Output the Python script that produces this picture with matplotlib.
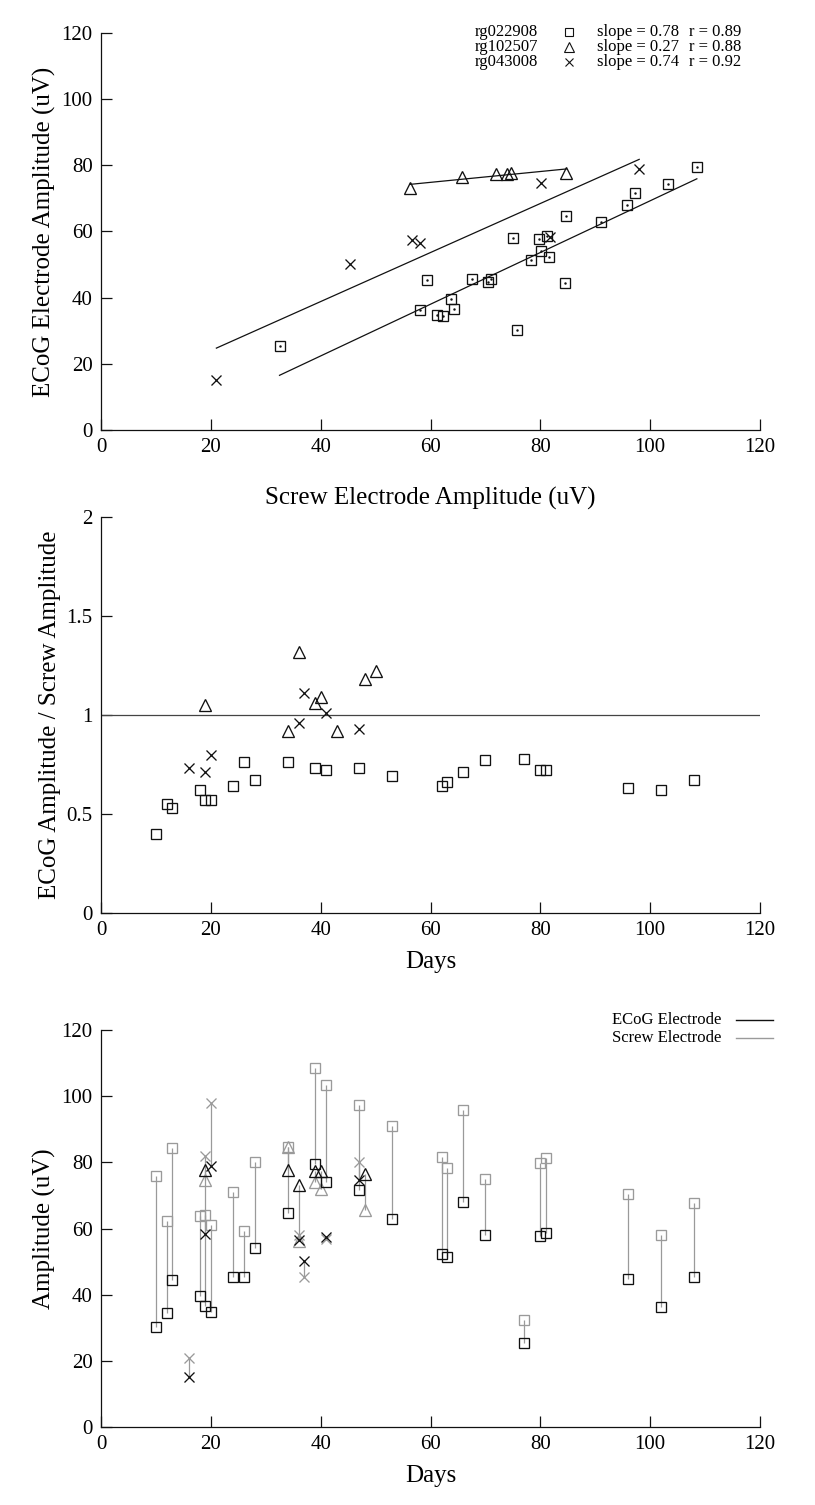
import numpy as np
import matplotlib
matplotlib.use("Agg")
import matplotlib.pyplot as plt
from matplotlib.ticker import FuncFormatter

plt.rcParams['font.family'] = ['Liberation Serif', 'DejaVu Serif']

# amplitudes per recording day (ECoG electrode vs screw electrode)
sq_days = [10, 12, 13, 18, 19, 20, 24, 26, 28, 34, 39, 41, 47, 53, 62, 63, 66, 70, 77, 80, 81, 96, 102, 108]
sq_ecog = [30.2, 34.4, 44.4, 39.7, 36.7, 34.7, 45.5, 45.3, 54.0, 64.6, 79.4, 74.2, 71.5, 63.0, 52.2, 51.3,
           68.1, 57.9, 25.3, 57.7, 58.6, 44.6, 36.3, 45.5]
sq_screw = [75.8, 62.2, 84.4, 63.8, 64.2, 61.1, 71.1, 59.4, 80.2, 84.7, 108.5, 103.3, 97.2, 91.0, 81.6, 78.3,
            95.7, 75.1, 32.5, 79.8, 81.3, 70.5, 58.1, 67.6]

tri_days = [19, 34, 36, 39, 40, 48]
tri_ecog = [77.8, 77.8, 73.2, 77.5, 77.3, 76.5]
tri_screw = [74.7, 84.7, 56.2, 74.0, 72.0, 65.7]

x_days = [16, 19, 20, 36, 37, 41, 47]
x_ecog = [15.2, 58.2, 79.0, 56.5, 50.2, 57.3, 74.7]
x_screw = [21.0, 81.8, 98.0, 58.0, 45.4, 56.7, 80.2]

# ratio panel
sq_ratio = [0.40, 0.55, 0.53, 0.62, 0.57, 0.57, 0.64, 0.76, 0.67, 0.76, 0.73, 0.72, 0.73, 0.69, 0.64, 0.66,
            0.71, 0.77, 0.78, 0.72, 0.72, 0.63, 0.62, 0.67]
tri_ratio_days = [19, 34, 36, 39, 40, 43, 48, 50]
tri_ratio = [1.05, 0.92, 1.32, 1.06, 1.09, 0.92, 1.18, 1.22]
x_ratio = [0.73, 0.71, 0.80, 0.96, 1.11, 1.01, 0.93]

subjects = ['rg022908', 'rg102507', 'rg043008']
slopes = ['0.78', '0.27', '0.74']
rvals = ['0.89', '0.88', '0.92']

GRAY = '#9a9a9a'
INK = '#111111'
TICK_FS = 15
LAB_FS = 18
LEG_FS = 12

series = [
    (sq_days, sq_ecog, sq_screw, dict(marker='s', ms=7.4)),
    (tri_days, tri_ecog, tri_screw, dict(marker='^', ms=9.2)),
    (x_days, x_ecog, x_screw, dict(marker='x', ms=7.4)),
]

fig = plt.figure(figsize=(8.15, 15.05), dpi=100)
ax1 = fig.add_axes([0.124, 0.7143, 0.8085, 0.2638])
ax2 = fig.add_axes([0.124, 0.3934, 0.8085, 0.2631])
ax3 = fig.add_axes([0.124, 0.0518, 0.8085, 0.2638])

fmt = FuncFormatter(lambda v, p: '%g' % v)
for ax in (ax1, ax2, ax3):
    for s in ('top', 'right'):
        ax.spines[s].set_visible(False)
    for s in ('left', 'bottom'):
        ax.spines[s].set_color(INK)
        ax.spines[s].set_linewidth(0.9)
    ax.tick_params(direction='in', length=8, width=0.9, color=INK, labelsize=TICK_FS, pad=6)
    ax.set_xlim(0, 120)
    ax.set_xticks(range(0, 121, 20))
    ax.xaxis.set_major_formatter(fmt)
    ax.yaxis.set_major_formatter(fmt)

# --- panel 1: ECoG vs screw with fits
for days, ecog, screw, mk in series:
    ax1.plot(screw, ecog, ls='none', mfc='none', mec=INK, mew=0.95, **mk)
    if mk['marker'] == 's':
        ax1.plot(screw, ecog, ls='none', marker='.', ms=1.5, color=INK)
    k, b = np.polyfit(screw, ecog, 1)
    xs = np.array([min(screw), max(screw)])
    ax1.plot(xs, k * xs + b, color=INK, lw=0.9)
ax1.set_ylim(0, 120)
ax1.set_yticks(range(0, 121, 20))
ax1.set_ylabel('ECoG Electrode Amplitude (uV)', fontsize=LAB_FS)
ax1.set_xlabel('Screw Electrode Amplitude (uV)', fontsize=LAB_FS, labelpad=21)

rows = [1.0033, 0.9655, 0.9277]
for (days, ecog, screw, mk), name, sl, r, yy in zip(series, subjects, slopes, rvals, rows):
    ax1.text(0.5675, yy, name, transform=ax1.transAxes, fontsize=LEG_FS, va='center', ha='left')
    ax1.plot([0.7107], [yy], transform=ax1.transAxes, ls='none', mfc='none', mec=INK, mew=0.8,
             marker=mk['marker'], ms=mk['ms'] * 0.85, clip_on=False)
    ax1.text(0.7522, yy, 'slope = ' + sl, transform=ax1.transAxes, fontsize=LEG_FS, va='center', ha='left')
    ax1.text(0.8925, yy, 'r = ' + r, transform=ax1.transAxes, fontsize=LEG_FS, va='center', ha='left')

# --- panel 2: ratio over days
ax2.axhline(1, color='#444444', lw=0.9)
ax2.plot(sq_days, sq_ratio, ls='none', marker='s', ms=7.4, mfc='none', mec=INK, mew=0.95)
ax2.plot(tri_ratio_days, tri_ratio, ls='none', marker='^', ms=9.2, mfc='none', mec=INK, mew=0.95)
ax2.plot(x_days, x_ratio, ls='none', marker='x', ms=7.4, mec=INK, mew=0.95)
ax2.set_ylim(0, 2)
ax2.set_yticks([0, 0.5, 1, 1.5, 2])
ax2.set_ylabel('ECoG Amplitude / Screw Amplitude', fontsize=LAB_FS)
ax2.set_xlabel('Days', fontsize=LAB_FS, labelpad=8)

# --- panel 3: both amplitudes over days
for days, ecog, screw, mk in series:
    ax3.vlines(days, ecog, screw, colors=GRAY, lw=0.9)
for days, ecog, screw, mk in series:
    ax3.plot(days, screw, ls='none', mfc='none', mec=GRAY, mew=0.95, **mk)
for days, ecog, screw, mk in series:
    ax3.plot(days, ecog, ls='none', mfc='none', mec=INK, mew=0.95, **mk)
ax3.set_ylim(0, 120)
ax3.set_yticks(range(0, 121, 20))
ax3.set_ylabel('Amplitude (uV)', fontsize=LAB_FS)
ax3.set_xlabel('Days', fontsize=LAB_FS, labelpad=8)

for lab, col, yy in (('ECoG Electrode', INK, 1.024), ('Screw Electrode', GRAY, 0.980)):
    ax3.text(0.942, yy, lab, transform=ax3.transAxes, fontsize=LEG_FS, va='center', ha='right')
    ax3.plot([0.9636, 1.0197], [yy, yy], transform=ax3.transAxes, color=col, lw=1, clip_on=False)

fig.savefig('out.png', dpi=100)
